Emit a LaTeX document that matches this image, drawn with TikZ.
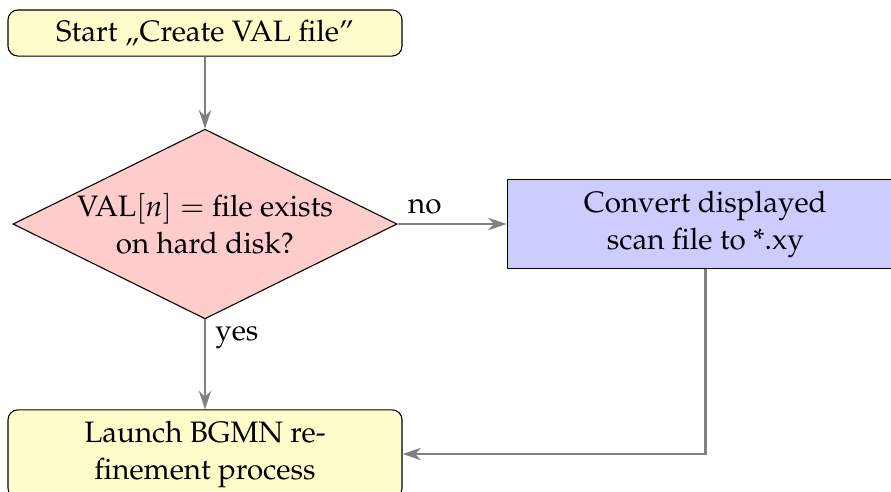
\documentclass[tikz,border=0pt]{standalone}
\usepackage[T1]{fontenc}
\usepackage{mathpazo}
\usetikzlibrary {arrows.meta}
\usetikzlibrary{positioning}
\usetikzlibrary{shapes.geometric}

\begin{document}
\begin{tikzpicture}[>={Stealth[length=2.4mm,width=1.6mm]},
			font=\fontsize{10.95}{13.7}\selectfont,
			startbox/.style={draw,rounded corners=1.3mm,fill=yellow!20,
				minimum width=5.13cm,minimum height=0.6cm,inner sep=0pt,align=center},
			decision/.style={draw,diamond,fill=red!20,shape aspect=2,
				minimum width=5cm,minimum height=2.47cm,inner sep=0pt,align=center},
			process/.style={draw,fill=blue!20,
				minimum width=5.16cm,minimum height=1.15cm,inner sep=0pt,align=center},
			flow/.style={draw=gray,line width=1pt,->}
		]
			\useasboundingbox (0,0) rectangle (11.6,-6.393);

			\node[startbox] (start) at (2.669,-0.430) {Start \quotedblbase Create VAL file''};
			\node[decision,below=0.9375cm of start] (exists) {VAL$[n]=$ file exists\\on hard disk?};
			\node[process,right=1.42cm of exists] (convert) {Convert displayed\\scan file to *.xy};
			\node[startbox,minimum height=1.15cm,below=1.17cm of exists] (launch) {Launch BGMN re-\\finement process};

			\draw[flow] (start)--(exists);
			\draw[flow] (exists)--(convert) node[pos=0.25,above,text=black]{no};
			\draw[flow] (exists)--(launch) node[pos=0.2,right,text=black]{yes};
			\draw[flow] (convert)|-(launch);
		\end{tikzpicture}
\end{document}
